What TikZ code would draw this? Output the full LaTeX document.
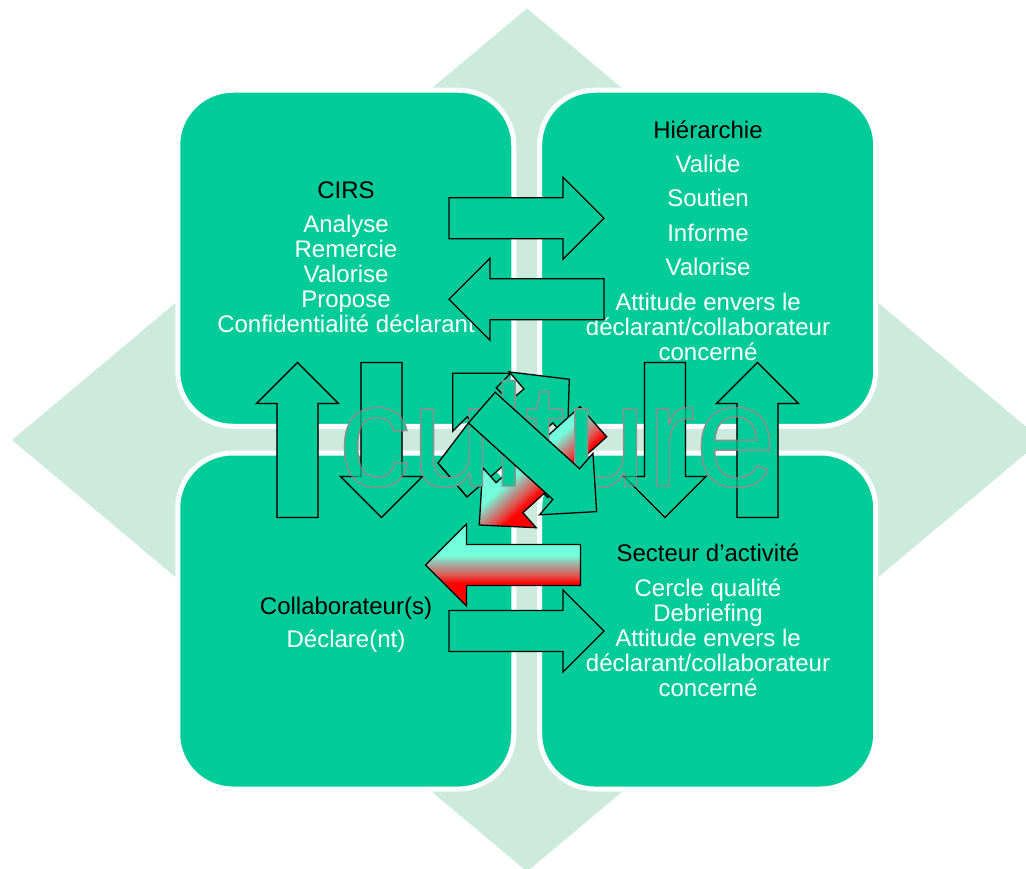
\documentclass[tikz,border=0pt]{standalone}
\usepackage{fontspec}
\setmainfont{Liberation Sans}
\usetikzlibrary{calc}
\definecolor{boxg}{RGB}{0,204,153}
\definecolor{bgl}{RGB}{205,235,221}
\definecolor{aqc}{RGB}{115,255,220}
\definecolor{midc}{RGB}{170,165,155}
\definecolor{pinkc}{RGB}{220,90,85}
\definecolor{redc}{RGB}{255,0,0}
\pgfdeclareverticalshading{aquared}{100bp}{color(0bp)=(redc); color(39bp)=(redc); color(44bp)=(pinkc); color(50bp)=(midc); color(56bp)=(aqc); color(100bp)=(aqc)}
\pgfdeclareverticalshading{aquareddiag}{100bp}{color(0bp)=(redc); color(43bp)=(redc); color(47bp)=(pinkc); color(51bp)=(midc); color(55bp)=(aqc); color(100bp)=(aqc)}
\newcommand{\blockarr}[4]{%
  \path[#1] ($#2-77.5*#3+20.5*#4$) -- ($#2+36.5*#3+20.5*#4$) -- ($#2+36.5*#3+41*#4$) -- ($#2+77.5*#3$) -- ($#2+36.5*#3-41*#4$) -- ($#2+36.5*#3-20.5*#4$) -- ($#2-77.5*#3-20.5*#4$) -- cycle;}
\newcommand{\outlinedtext}[1]{\special{pdf:literal direct 2 Tr 1.4 w 0.56 0.56 0.56 RG}#1\special{pdf:literal direct 0 Tr}}
\begin{document}
\begin{tikzpicture}[x=1pt,y=-1pt,
  bx/.style={rectangle, fill=boxg, draw=white, line width=5pt, rounded corners=55pt, minimum width=336pt, minimum height=336pt, inner sep=0pt},
  ar/.style={fill=boxg, draw=black, line width=1.3pt},
  gar/.style={shade, shading=aquared, draw=black, line width=1.3pt},
  hd/.style={font=\fontsize{24}{25}\selectfont, text=black, anchor=base, inner sep=0pt},
  it/.style={hd, text=white},
  cul/.style={font=\fontsize{146}{150}\selectfont, anchor=base west, inner sep=0pt},
  faint/.style={draw=black, draw opacity=0.35, line width=1.3pt}]
\useasboundingbox (0,0) rectangle (1026,869);
% background diamond
\fill[bgl] (527,8.5) -- (1042,440) -- (527,871.5) -- (12,440) -- cycle;
% boxes
\node[bx] (tl) at (345.75,258.25) {};
\node[bx] (tr) at (707.7,258.25) {};
\node[bx] (bl) at (345.75,621) {};
\node[bx] (br) at (707.7,621) {};
% texts top-left
\node[hd] (cirs) at (346,199) {CIRS};
\node[it] (t1) at (346,232.7) {Analyse};
\node[it] (t2) at (346,257.6) {Remercie};
\node[it] (t3) at (346,282.5) {Valorise};
\node[it] (t4) at (346,307.4) {Propose};
\node[it] (t5) at (346,332.3) {Confidentialité déclarant};
% texts top-right
\node[hd] (hier) at (708,138.5) {Hiérarchie};
\node[it] (h1) at (708,172.5) {Valide};
\node[it] (h2) at (708,207) {Soutien};
\node[it] (h3) at (708,241.5) {Informe};
\node[it] (h4) at (708,276) {Valorise};
\node[it] (h5) at (708,310.5) {Attitude envers le};
\node[it] (h6) at (708,335.4) {déclarant/collaborateur};
\node[it] (h7) at (708,360.3) {concerné};
% texts bottom-left
\node[hd] (coll) at (346,614) {Collaborateur(s)};
\node[it] (c1) at (346,647) {Déclare(nt)};
% texts bottom-right
\node[hd] (sect) at (708,561.6) {Secteur d’activité};
\node[it] (s1) at (708,596.6) {Cercle qualité};
\node[it] (s2) at (708,621.5) {Debriefing};
\node[it] (s3) at (708,646.4) {Attitude envers le};
\node[it] (s4) at (708,671.3) {déclarant/collaborateur};
\node[it] (s5) at (708,696.2) {concerné};
% straight block arrows
\blockarr{ar}{(526.5,218.3)}{(1,0)}{(0,1)}
\blockarr{ar}{(526.5,299.2)}{(-1,0)}{(0,1)}
\blockarr{gar}{(503,565)}{(-1,0)}{(0,1)}
\blockarr{ar}{(526.5,631)}{(1,0)}{(0,1)}
\blockarr{ar}{(297.5,440)}{(0,-1)}{(1,0)}
\blockarr{ar}{(381.5,440)}{(0,1)}{(1,0)}
\blockarr{ar}{(665,440)}{(0,1)}{(1,0)}
\blockarr{ar}{(757.5,440)}{(0,-1)}{(1,0)}
% central cluster
\blockarr{ar}{(507.5,428.1)}{(-0.7071,-0.7071)}{(0.7071,-0.7071)}
\blockarr{ar}{(510.9,429.65)}{(0.7535,-0.6497)}{(-0.707,-0.829)}
\fill[boxg] (438,463) -- (468.4,423) -- (482,432) -- (450,468) -- cycle;
\draw[line width=1.3pt] (468.4,423) -- (438,463) -- (467,497);
\blockarr{gar, shading=aquareddiag, shading angle=41.6}{(536.3,473.35)}{(-0.7358,0.6665)}{(-0.651,-0.732)}
% culture text (green fill, thin grey outline)
\node[cul, text=boxg] (cul) at (338,486) {\outlinedtext{culture}};
\blockarr{faint}{(297.5,440)}{(0,-1)}{(1,0)}
\blockarr{faint}{(381.5,440)}{(0,1)}{(1,0)}
\blockarr{faint}{(665,440)}{(0,1)}{(1,0)}
\blockarr{faint}{(757.5,440)}{(0,-1)}{(1,0)}
% main diagonal arrow on top
\blockarr{ar}{(539.2,459.6)}{(0.741,0.671)}{(0.651,-0.749)}
\end{tikzpicture}
\end{document}
